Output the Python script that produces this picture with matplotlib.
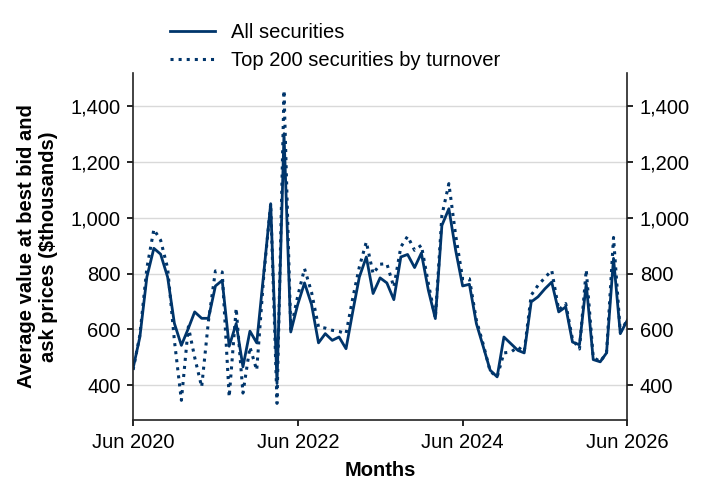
import pandas as pd
import matplotlib
matplotlib.use("Agg")
import matplotlib.pyplot as plt
import matplotlib.dates as mdates
from matplotlib.ticker import FuncFormatter

plt.rcParams['font.family'] = ['Liberation Sans', 'DejaVu Sans']

months = pd.date_range("2020-06-01", "2026-06-01", freq="MS")

all_securities = [
    461, 573, 788, 891, 870, 788, 622,
    543, 604, 663, 640, 640, 756, 776, 540, 621, 466, 594, 552,
    800, 1051, 406, 1302, 591, 690, 767, 690, 552, 585, 561, 573,
    531, 669, 788, 860, 729, 785, 767, 707, 860, 869, 822, 874,
    741, 639, 973, 1033, 884, 756, 762, 621, 537, 454, 430, 573,
    549, 525, 516, 699, 717, 746, 770, 663, 681, 555, 545, 764,
    492, 484, 516, 855, 585, 633,
]
top_200 = [
    455, 580, 820, 959, 920, 820, 561,
    346, 610, 500, 394, 630, 810, 806, 358, 676, 372, 537, 454,
    790, 1051, 335, 1457, 600, 720, 818, 734, 609, 605, 597, 593,
    585, 717, 824, 914, 800, 834, 836, 752, 896, 934, 884, 902,
    765, 640, 1009, 1123, 938, 782, 782, 633, 545, 450, 430, 516,
    519, 537, 520, 723, 758, 786, 812, 670, 693, 565, 530, 814,
    500, 485, 516, 930, 590, 635,
]
series_labels = ["All securities", "Top 200 securities by turnover"]
x_ticks = pd.to_datetime(["2020-06-01", "2022-06-01", "2024-06-01", "2026-06-01"])
y_ticks = [400, 600, 800, 1000, 1200, 1400]

navy = "#00356b"
fs = 14.5

fig = plt.figure(figsize=(7.08, 4.96), dpi=100)
ax = fig.add_axes([0.188, 0.153, 0.698, 0.70])

ax.plot(months, all_securities, color=navy, lw=2, label=series_labels[0])
ax.plot(months, top_200, color=navy, lw=2.2, ls=":", label=series_labels[1])

ax.set_xlim(months[0], months[-1])
ax.set_ylim(275, 1520)
ax.set_yticks(y_ticks)
ax.yaxis.set_major_formatter(FuncFormatter(lambda v, p: f"{v:,.0f}"))
ax.set_xticks(x_ticks)
ax.xaxis.set_major_formatter(mdates.DateFormatter("%b %Y"))

ax.grid(axis="y", color="#d9d9d9", lw=1)
ax.set_axisbelow(True)
ax.spines["top"].set_visible(False)
for s in ["left", "right", "bottom"]:
    ax.spines[s].set_linewidth(1.2)
    ax.spines[s].set_color("#222222")

ax.tick_params(axis="both", labelsize=fs, length=4, width=1.2, pad=5, direction="out")
ax.tick_params(axis="y", right=True, labelright=True)

ax.set_xlabel("Months", fontsize=fs, fontweight="bold", labelpad=7)
ax.set_ylabel("Average value at best bid and\nask prices ($thousands)", fontsize=fs,
              fontweight="bold", labelpad=9, linespacing=1.2)

fig.legend(loc="upper left", bbox_to_anchor=(0.215, 0.99), frameon=False, fontsize=fs,
           handlelength=2.2, handletextpad=0.8, labelspacing=0.45)

plt.savefig("out.png", dpi=100)
